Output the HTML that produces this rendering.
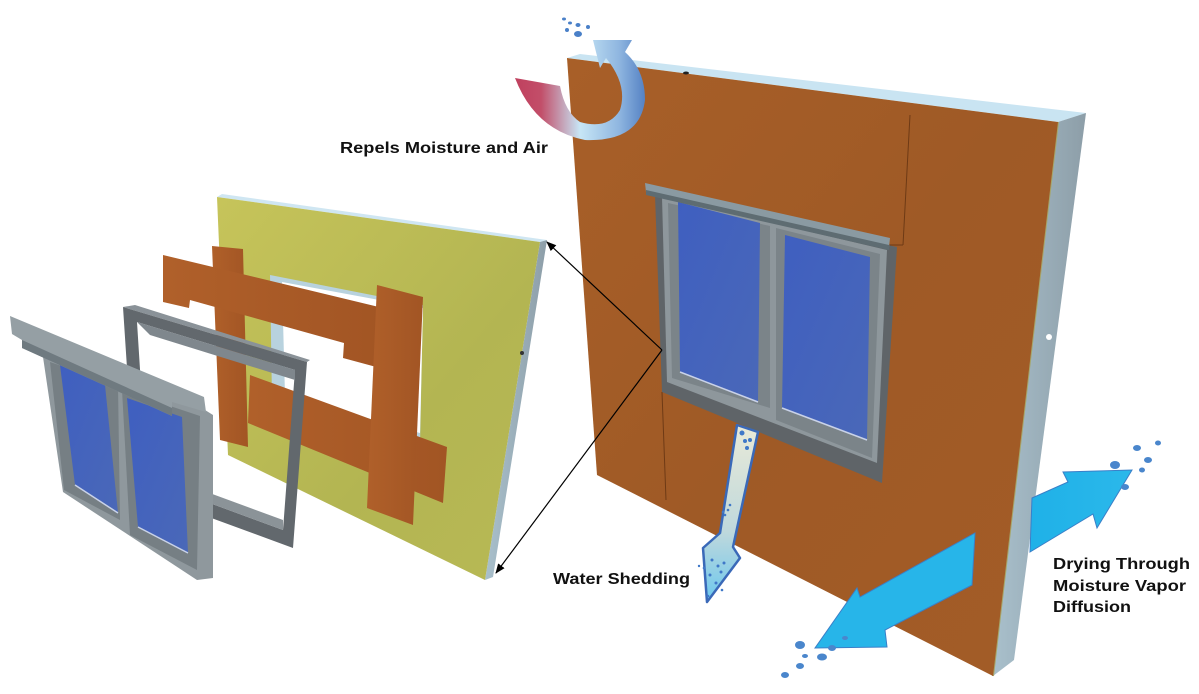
<!DOCTYPE html>
<html><head><meta charset="utf-8"><style>
html,body{margin:0;padding:0;background:#fff;}
svg{display:block;}
text{font-family:"Liberation Sans",Arial,sans-serif;font-weight:bold;fill:#111;}
</style></head><body>
<svg width="1199" height="694" viewBox="0 0 1199 694" xmlns="http://www.w3.org/2000/svg">
<defs>
<linearGradient id="orange" x1="0" y1="0" x2="1" y2="1">
<stop offset="0" stop-color="#a85f28"/><stop offset="0.5" stop-color="#9f5a26"/><stop offset="1" stop-color="#a35c27"/></linearGradient>
<linearGradient id="tape" x1="0" y1="0" x2="1" y2="0">
<stop offset="0" stop-color="#b0602a"/><stop offset="1" stop-color="#a25524"/></linearGradient>
<linearGradient id="yellow" x1="0" y1="0" x2="1" y2="1">
<stop offset="0" stop-color="#c6c45a"/><stop offset="0.6" stop-color="#b3b552"/><stop offset="1" stop-color="#b8b955"/></linearGradient>
<linearGradient id="side" x1="0" y1="0" x2="1" y2="0">
<stop offset="0" stop-color="#a9c0cc"/><stop offset="1" stop-color="#8d9ea8"/></linearGradient>
<linearGradient id="glass" x1="0" y1="0" x2="1" y2="1">
<stop offset="0" stop-color="#3f5fc0"/><stop offset="1" stop-color="#4a68b8"/></linearGradient>
<linearGradient id="curl" x1="0" y1="0" x2="1" y2="0">
<stop offset="0" stop-color="#c0405e"/><stop offset="0.2" stop-color="#c24e69"/><stop offset="0.5" stop-color="#c7e6f6"/><stop offset="0.8" stop-color="#8fb6e0"/><stop offset="1" stop-color="#5582c4"/></linearGradient>
<linearGradient id="water" x1="0" y1="0" x2="0" y2="1">
<stop offset="0" stop-color="#e9ead8"/><stop offset="0.6" stop-color="#bfd8dc"/><stop offset="1" stop-color="#6cc8ee"/></linearGradient>
<linearGradient id="cyan" x1="0" y1="0" x2="1" y2="0">
<stop offset="0" stop-color="#1fb1e8"/><stop offset="1" stop-color="#2bb8ea"/></linearGradient>
<marker id="ah" markerWidth="10" markerHeight="10" refX="9" refY="5" orient="auto" markerUnits="userSpaceOnUse">
<path d="M0,1 L10,5 L0,9 Z" fill="#000"/></marker>
</defs>

<!-- ===== big orange panel ===== -->
<polygon points="567,58 580,54 1086,113 1058,122" fill="#c9e4f2"/>
<line x1="567" y1="59" x2="1058" y2="123" stroke="#c8c860" stroke-width="1.5"/>
<polygon points="1058,122 1086,113 1014,660 993,676" fill="url(#side)"/>
<line x1="1058" y1="122" x2="993" y2="676" stroke="#a6a66a" stroke-width="2"/>
<polygon points="567,58 1058,122 993,676 597,475" fill="url(#orange)"/>
<circle cx="1049" cy="337" r="3" fill="#fff"/>
<ellipse cx="686" cy="73" rx="3" ry="1.5" fill="#222"/>
<!-- seams -->
<line x1="910" y1="115" x2="903" y2="245" stroke="#6e3a15" stroke-width="1"/>
<line x1="888" y1="245" x2="903" y2="245" stroke="#6e3a15" stroke-width="1"/>
<line x1="662" y1="392" x2="666" y2="500" stroke="#6e3a15" stroke-width="1"/>

<!-- window on panel -->
<polygon points="655,195 897,247 882,483 662,392" fill="#5f6468"/>
<polygon points="662,197 887,250 877,463 667,382" fill="#8e979c"/>
<polygon points="668,203 770,226 770,408 672,378" fill="#7b8489"/>
<polygon points="776,228 880,254 872,458 776,420" fill="#7b8489"/>
<polygon points="678,202 760,223 758,402 680,372" fill="url(#glass)"/>
<polygon points="785,235 870,257 867,440 782,408" fill="url(#glass)"/>
<line x1="680" y1="372" x2="758" y2="402" stroke="#c9d2e8" stroke-width="1.5"/>
<line x1="782" y1="408" x2="867" y2="440" stroke="#c9d2e8" stroke-width="1.5"/>
<polygon points="645,183 890,238 889,247 646,192" fill="#8a9aa2"/>
<polygon points="646,190 889,245 889,250 646,195" fill="#5e6c72"/>

<!-- water shedding arrow -->
<polygon points="737,425 758,432 733,547 740,558 707,602 703,548 720,533" fill="url(#water)" stroke="#3a69b8" stroke-width="2.5" stroke-linejoin="round"/>
<g fill="#3f78c8">
<circle cx="742" cy="433" r="2.5"/><circle cx="745" cy="441" r="2"/><circle cx="750" cy="440" r="2"/><circle cx="747" cy="448" r="2"/>
<circle cx="730" cy="505" r="1.3"/><circle cx="728" cy="510" r="1.3"/><circle cx="725" cy="515" r="1.3"/><circle cx="723" cy="512" r="1.3"/>
<circle cx="712" cy="560" r="1.5"/><circle cx="718" cy="566" r="1.5"/><circle cx="724" cy="563" r="1.5"/><circle cx="721" cy="572" r="1.5"/><circle cx="710" cy="575" r="1.5"/><circle cx="704" cy="568" r="1.3"/><circle cx="716" cy="583" r="1.5"/><circle cx="722" cy="590" r="1.3"/><circle cx="708" cy="596" r="1.3"/><circle cx="699" cy="566" r="1.2"/>
</g>

<!-- drying arrows -->
<polygon points="1032,498 1068,482 1063,472 1132,470 1097,528 1093,514 1030,552" fill="url(#cyan)" stroke="#3a7fc8" stroke-width="1"/>
<polygon points="975,533 972,585 885,630 887,647 815,648 857,588 860,597" fill="#27b5e9" stroke="#3a7fc8" stroke-width="1"/>
<g fill="#4a86cc">
<ellipse cx="1115" cy="465" rx="5" ry="4"/><ellipse cx="1137" cy="448" rx="4" ry="3"/><ellipse cx="1148" cy="460" rx="4" ry="3"/><ellipse cx="1158" cy="443" rx="3" ry="2.5"/><ellipse cx="1125" cy="487" rx="4" ry="3"/><ellipse cx="1142" cy="470" rx="3" ry="2.5"/>
<ellipse cx="800" cy="645" rx="5" ry="4"/><ellipse cx="832" cy="648" rx="4" ry="3"/><ellipse cx="845" cy="638" rx="3" ry="2"/><ellipse cx="822" cy="657" rx="5" ry="3.5"/><ellipse cx="800" cy="666" rx="4" ry="3"/><ellipse cx="785" cy="675" rx="4" ry="3"/><ellipse cx="805" cy="656" rx="3" ry="2"/>
</g>

<!-- curl arrow -->
<path d="M515,78 Q535,130 585,140 Q640,142 645,100 Q645,70 625,52 L632,40 L593,40 L600,68 L606,58 Q628,85 620,110 Q608,130 580,122 Q565,112 560,86 Z" fill="url(#curl)"/>
<g fill="#4a80c8">
<ellipse cx="564" cy="19" rx="2" ry="1.5"/><ellipse cx="570" cy="23" rx="2" ry="1.5"/><ellipse cx="578" cy="25" rx="2.5" ry="2"/><ellipse cx="588" cy="27" rx="2" ry="2"/><ellipse cx="567" cy="30" rx="2" ry="2"/><ellipse cx="578" cy="34" rx="4" ry="3"/>
</g>

<!-- ===== left yellow panel ===== -->
<polygon points="217,197 222,194 547,240 540,242" fill="#cfe6f2"/>
<polygon points="540,242 547,240 493,577 485,580" fill="url(#side)"/>
<polygon points="217,197 540,242 485,580 228,455" fill="url(#yellow)"/>
<circle cx="522" cy="353" r="2" fill="#333"/>
<!-- opening -->
<polygon points="270,275 423,305 420,445 272,400" fill="#b8d2de"/>
<polygon points="282,282 423,308 420,433 285,395" fill="#ffffff"/>
<!-- tapes -->
<polygon points="212,246 243,249 248,447 220,440" fill="url(#tape)"/>
<polygon points="250,375 447,447 443,503 248,423" fill="url(#tape)"/>
<polygon points="163,255 383,308 380,368 343,358 344,343 190,300 189,308 163,302" fill="url(#tape)"/>
<polygon points="377,285 423,297 413,525 367,508" fill="url(#tape)"/>

<!-- gray buck frame -->
<polygon points="123,307 135,305 310,360 307,362" fill="#8a9298"/>
<path d="M123,307 L307,362 L293,548 L135,490 Z M137,322 L295,370 L283,530 L147,480 Z" fill="#62686d" fill-rule="evenodd"/>
<polygon points="137,322 295,370 295,380 150,335" fill="#7f878d"/>
<polygon points="147,470 283,520 283,530 147,480" fill="#8b9398"/>

<!-- ===== left window ===== -->
<polygon points="43,357 205,410 213,415 213,578 197,580 63,492" fill="#8f989d"/>
<polygon points="50,362 118,385 120,520 64,490" fill="#767f84"/>
<polygon points="122,390 200,416 197,570 130,535" fill="#767f84"/>
<polygon points="60,365 105,385 118,513 75,485" fill="url(#glass)"/>
<polygon points="127,398 182,417 188,553 138,527" fill="url(#glass)"/>
<line x1="75" y1="485" x2="118" y2="513" stroke="#c9d2e8" stroke-width="1.5"/>
<line x1="138" y1="527" x2="188" y2="553" stroke="#c9d2e8" stroke-width="1.5"/>
<polygon points="10,316 204,397 206,412 172,402 172,416 22,348 22,340 12,334" fill="#959fa4"/>
<polygon points="22,340 172,408 172,416 22,348" fill="#6f7a80"/>

<!-- connector arrows -->
<line x1="662" y1="350" x2="547" y2="242" stroke="#000" stroke-width="1.2" marker-end="url(#ah)"/>
<line x1="662" y1="350" x2="496" y2="573" stroke="#000" stroke-width="1.2" marker-end="url(#ah)"/>

<!-- labels -->
<text x="340" y="153" font-size="16" textLength="208" lengthAdjust="spacingAndGlyphs">Repels Moisture and Air</text>
<text x="553" y="584" font-size="16" textLength="137" lengthAdjust="spacingAndGlyphs">Water Shedding</text>
<text x="1053" y="569" font-size="16" textLength="137" lengthAdjust="spacingAndGlyphs">Drying Through</text>
<text x="1053" y="591" font-size="16" textLength="133" lengthAdjust="spacingAndGlyphs">Moisture Vapor</text>
<text x="1053" y="612" font-size="16" textLength="78" lengthAdjust="spacingAndGlyphs">Diffusion</text>
</svg>
</body></html>
